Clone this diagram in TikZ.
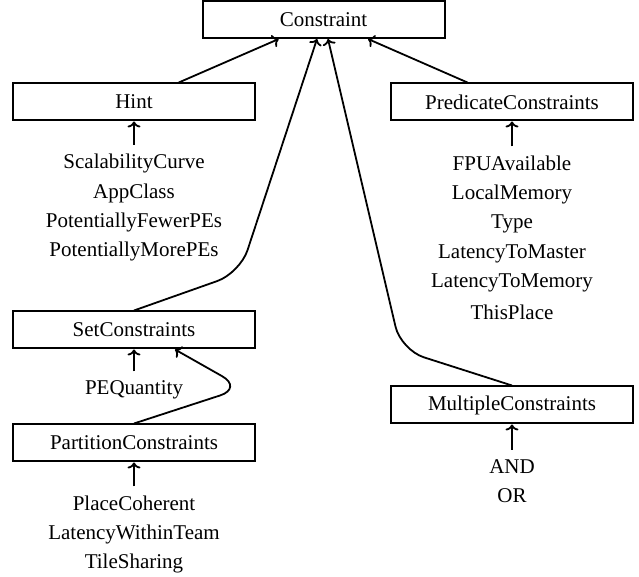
\documentclass[tikz,border=0pt]{standalone}
\usepackage{fontspec}
\setmainfont{Liberation Serif}
\usepackage{tikz}
\usetikzlibrary{positioning,arrows.meta,calc}

\begin{document}
\begin{tikzpicture}[
  x=0.5pt, y=-0.5pt,
  cls/.style={rectangle, draw=black, line width=1pt, inner sep=2pt,
             minimum width=121pt, minimum height=18.5pt,
             font=\fontsize{10.5}{14.6}\selectfont},
  lst/.style={align=center, anchor=north, inner sep=4.5pt,
             font=\fontsize{10.5}{14.6}\selectfont},
  arr/.style={-{To[length=3pt,width=6.5pt]}, line width=0.9pt},
  bent/.style={arr, rounded corners=12pt},
]
\useasboundingbox (0,0) rectangle (639,577);

\node[cls] (constraint) at (323.5,19.5) {Constraint};
\node[cls] (hint)  at (134,102) {Hint};
\node[cls] (pred)  at (512,102) {PredicateConstraints};
\node[cls] (set)   at (134,330) {SetConstraints};
\node[cls] (part)  at (134,443) {PartitionConstraints};
\node[cls] (multi) at (512,405) {MultipleConstraints};

\node[lst] (hintlist)  at (134,145)   {ScalabilityCurve\\ AppClass\\ PotentiallyFewerPEs\\ PotentiallyMorePEs};
\node[lst] (predlist)  at (512,146.5) {FPUAvailable\\ LocalMemory\\ Type\\ LatencyToMaster\\ LatencyToMemory\\[1.5pt] ThisPlace};
\node[lst] (setlist)   at (134,371.5) {PEQuantity};
\node[lst] (partlist)  at (134,486.5) {PlaceCoherent\\ LatencyWithinTeam\\ TileSharing};
\node[lst] (multilist) at (512,450)   {AND\\ OR};

\coordinate (setbend)   at (240,273);
\coordinate (pebend)    at (243,388);
\coordinate (multibend) at (401,350);

\draw[arr] (hint) -- (constraint);
\draw[arr] (pred) -- (constraint);
\draw[bent] (set.north) -- (setbend) -- ($(constraint.south)+(-6.5,0)$);
\draw[bent] (multi.north) -- (multibend) -- ($(constraint.south)+(4.5,0)$);
\draw[bent] (part.north) -- (pebend) -- ($(set.south)+(41,0)$);

\draw[arr] (hintlist.north) -- (hint.south);
\draw[arr] (predlist.north) -- (pred.south);
\draw[arr] (setlist.north) -- (set.south);
\draw[arr] (partlist.north) -- (part.south);
\draw[arr] (multilist.north) -- (multi.south);
\end{tikzpicture}
\end{document}
